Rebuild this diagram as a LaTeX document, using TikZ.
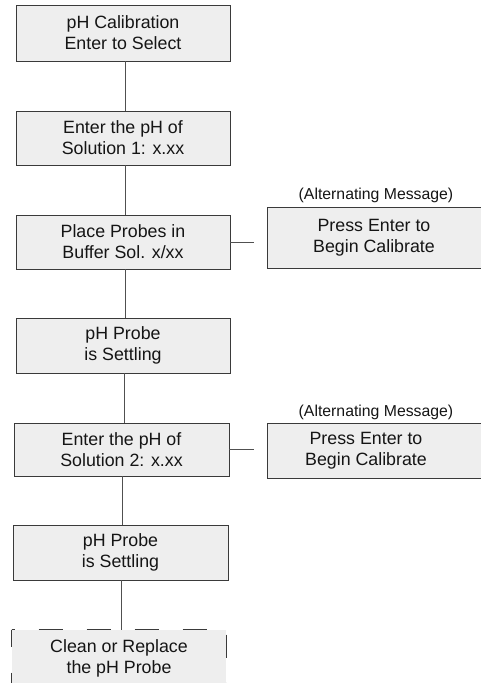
\documentclass[tikz,border=0pt]{standalone}
\usepackage{fontspec}
\setmainfont{Liberation Sans}
\definecolor{boxfill}{HTML}{EEEEEE}
\definecolor{boxline}{HTML}{3A3A3A}
\definecolor{conline}{HTML}{505050}
\definecolor{txt}{HTML}{151515}
\begin{document}
\begin{tikzpicture}[x=1pt,y=-1pt,
  stepbox/.style={draw=boxline, line width=0.9pt, fill=boxfill, minimum width=214pt,
     minimum height=54pt, inner sep=0pt, align=center, text=txt,
     font=\fontsize{17.8}{21}\selectfont},
  conn/.style={draw=conline, line width=0.9pt},
  note/.style={text=txt, inner sep=0pt, font=\fontsize{15.8}{18}\selectfont}]
\useasboundingbox (0,0) rectangle (481,683);
\begin{scope}
\clip (0,0) rectangle (481,683);
\node[stepbox, minimum height=56pt] (b1) at (123,33) {pH Calibration\\Enter to Select};
\node[stepbox] (b2) at (123,138) {Enter the pH of\\Solution 1: x.xx};
\node[stepbox] (b3) at (123,242) {Place Probes in\\Buffer Sol. x/xx};
\node[stepbox, minimum height=55pt] (b4) at (123,345.5) {pH Probe\\is Settling};
\node[stepbox, minimum width=215pt, minimum height=53pt] (b5) at (121.5,449.5) {Enter the pH of\\Solution 2: x.xx};
\node[stepbox, minimum width=215pt, minimum height=55pt] (b6) at (120.5,552.5) {pH Probe\\is Settling};
\node[stepbox, draw=none, minimum height=56pt] (b7) at (119,658) {Clean or Replace\\the pH Probe};
\draw[boxline, line width=0.9pt, dash pattern=on 24pt off 24pt, dash phase=-27pt]
  (b7.north west) -- (b7.north east);
\draw[boxline, line width=0.9pt, dash pattern=on 17pt off 26pt]
  (b7.north west) -- (b7.south west);
\draw[boxline, line width=0.9pt, dash pattern=on 0pt off 5pt on 23pt off 20pt]
  (b7.north east) -- (b7.south east);
\draw[boxline, line width=0.9pt] (b7.north west) -- ++(3,0);

\node[stepbox, minimum width=218pt, minimum height=61pt] (r1) at (376,237.5) {\hspace*{-4pt}Press Enter to\\\hspace*{-4pt}Begin Calibrate};
\node[note] (n1) at (376,195) {(Alternating Message)};
\node[stepbox, minimum width=218pt, minimum height=55pt] (r2) at (376,450.5) {\hspace*{-20pt}Press Enter to\\\hspace*{-20pt}Begin Calibrate};
\node[note] (n2) at (376,412) {(Alternating Message)};

\coordinate (s1) at (254,243);
\coordinate (s2) at (254,451);
\draw[conn] ([xshift=2pt]b1.south) -- ([xshift=2pt]b2.north);
\draw[conn] ([xshift=2pt]b2.south) -- ([xshift=2pt]b3.north);
\draw[conn] ([xshift=2pt]b3.south) -- ([xshift=2pt]b4.north);
\draw[conn] ([xshift=1pt]b4.south) -- ([xshift=1pt]b4.south |- b5.north);
\draw[conn] ([xshift=1pt]b5.south) -- ([xshift=1pt]b5.south |- b6.north);
\draw[conn] ([xshift=1pt]b6.south) -- ([xshift=1pt]b6.south |- b7.north);
\draw[conn] (b3.east) -- (b3.east -| s1);
\draw[conn] (b5.east) -- (b5.east -| s2);
\end{scope}
\end{tikzpicture}
\end{document}
